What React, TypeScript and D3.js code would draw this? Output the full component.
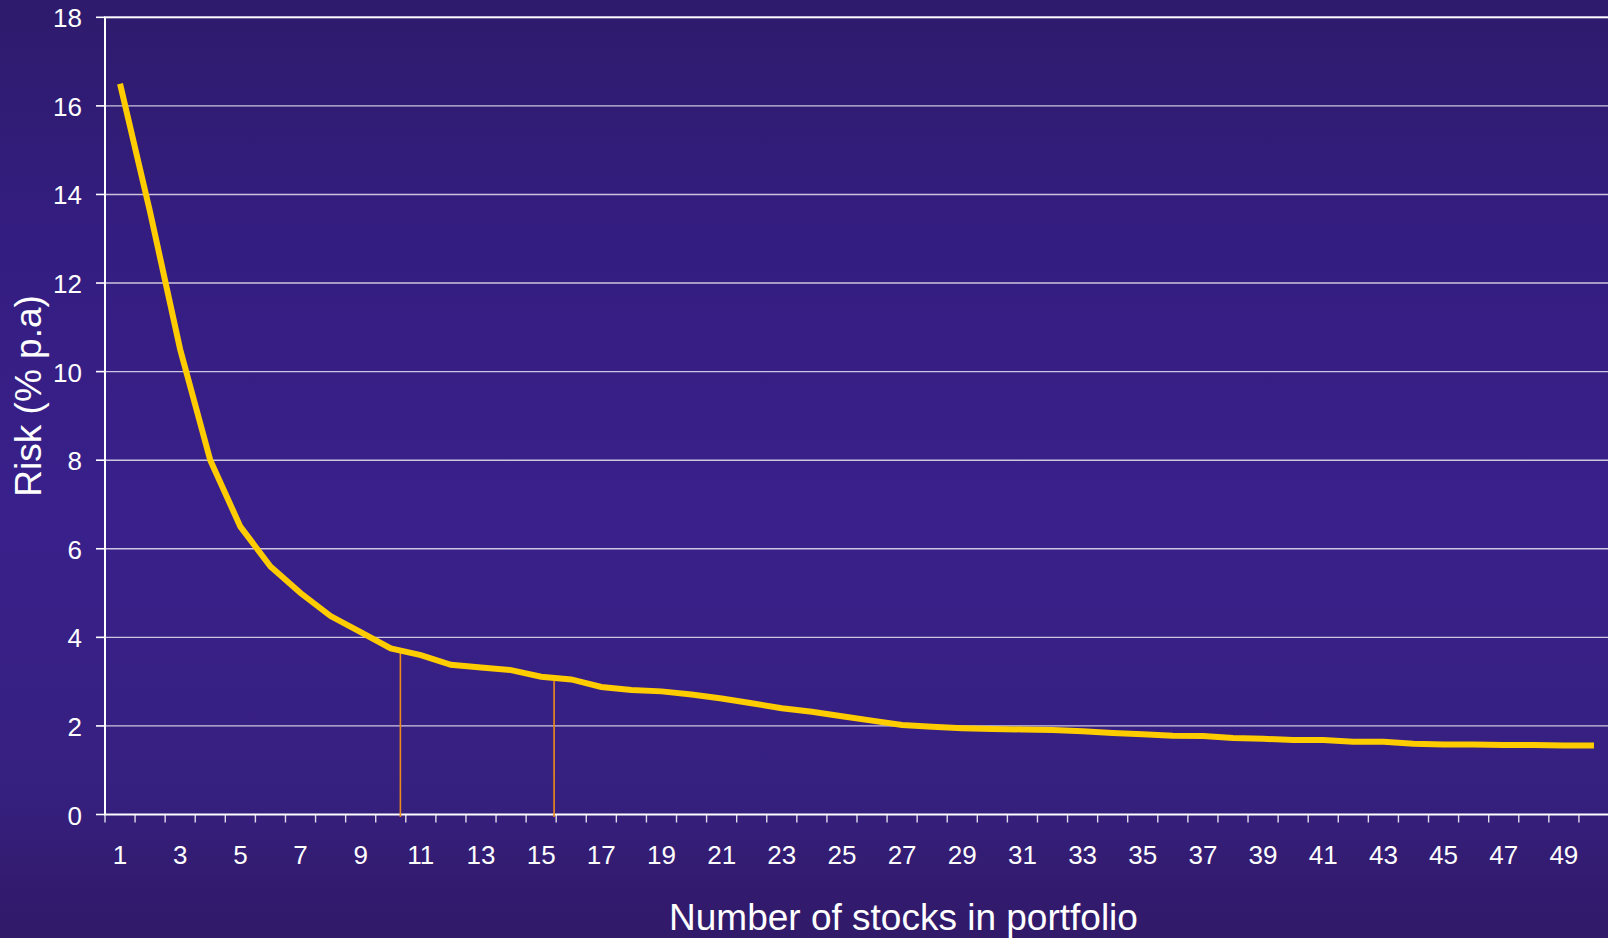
import React from "react";
import * as d3 from "d3";

// Number of stocks held (category axis)
const stockCounts = [
  1, 2, 3, 4, 5, 6, 7, 8, 9, 10, 11, 12, 13, 14, 15, 16, 17, 18, 19, 20, 21, 22, 23, 24, 25,
  26, 27, 28, 29, 30, 31, 32, 33, 34, 35, 36, 37, 38, 39, 40, 41, 42, 43, 44, 45, 46, 47, 48, 49, 50,
];

// Portfolio risk (% p.a.) for each portfolio size
const riskValues = [
  16.5, 13.6, 10.5, 8.0, 6.5, 5.6, 5.0, 4.48, 4.12, 3.75,
  3.6, 3.38, 3.32, 3.26, 3.11, 3.05, 2.88, 2.81, 2.78, 2.71,
  2.62, 2.51, 2.4, 2.32, 2.22, 2.12, 2.02, 1.98, 1.95, 1.93,
  1.92, 1.91, 1.88, 1.84, 1.81, 1.78, 1.77, 1.73, 1.71, 1.68,
  1.68, 1.64, 1.64, 1.6, 1.58, 1.58, 1.57, 1.57, 1.56, 1.56,
];

// Y-axis tick values
const yTicks = [0, 2, 4, 6, 8, 10, 12, 14, 16, 18];

// Drop lines from the curve down to the axis (position in stocks, top in % p.a.)
const dropLineStocks = [10.32, 15.43];
const dropLineTops = [3.72, 3.03];

const W = 1608;
const H = 938;
const FONT = "'Liberation Sans', Arial, Helvetica, sans-serif";

export default function App() {
  const left = 105;
  const bandW = 30.08;
  const right = left + bandW * stockCounts.length;
  const top = 17.3;
  const bottom = 814.5;

  const x = d3
    .scaleBand<number>()
    .domain(stockCounts)
    .range([left, right])
    .padding(0);
  const xLin = d3
    .scaleLinear()
    .domain([0.5, stockCounts.length + 0.5])
    .range([left, right]);
  const y = d3.scaleLinear().domain([0, 18]).range([bottom, top]);

  const line = d3
    .line<number>()
    .x((_, i) => (x(stockCounts[i]) as number) + x.bandwidth() / 2)
    .y((d) => y(d));

  const boundaries = stockCounts.map((c) => x(c) as number).concat([right]);

  return (
    <svg
      width={W}
      height={H}
      style={{ position: "absolute", left: 0, top: 0, display: "block" }}
    >
      <defs>
        <linearGradient id="bg" x1="0" y1="0" x2="0" y2="1">
          <stop offset="0%" stopColor="#2e1b6c" />
          <stop offset="25%" stopColor="#341d80" />
          <stop offset="55%" stopColor="#39208b" />
          <stop offset="85%" stopColor="#36207f" />
          <stop offset="92%" stopColor="#331c72" />
          <stop offset="100%" stopColor="#311a69" />
        </linearGradient>
      </defs>
      <rect x={0} y={0} width={W} height={H} fill="url(#bg)" />

      {/* horizontal gridlines */}
      {yTicks
        .filter((t) => t > 0 && t < 18)
        .map((t) => (
          <line
            key={"g" + t}
            x1={left}
            x2={right}
            y1={y(t)}
            y2={y(t)}
            stroke="#ffffff"
            strokeOpacity={0.75}
            strokeWidth={1.4}
          />
        ))}

      {/* plot-area frame */}
      <rect
        x={left}
        y={y(18)}
        width={right - left}
        height={y(0) - y(18)}
        fill="none"
        stroke="#ffffff"
        strokeWidth={2}
      />

      {/* y ticks and labels */}
      {yTicks.map((t) => (
        <g key={"y" + t}>
          <line x1={left - 9} x2={left} y1={y(t)} y2={y(t)} stroke="#ffffff" strokeWidth={1.6} />
          <text
            x={82}
            y={y(t) + 10}
            textAnchor="end"
            fontFamily={FONT}
            fontSize={26}
            fill="#ffffff"
          >
            {t}
          </text>
        </g>
      ))}

      {/* x ticks between categories */}
      {boundaries.map((b, i) => (
        <line
          key={"xt" + i}
          x1={b}
          x2={b}
          y1={y(0)}
          y2={y(0) + 8}
          stroke="#ffffff"
          strokeOpacity={0.85}
          strokeWidth={1.4}
        />
      ))}

      {/* x labels on odd counts */}
      {stockCounts
        .filter((c) => c % 2 === 1)
        .map((c) => (
          <text
            key={"xl" + c}
            x={(x(c) as number) + x.bandwidth() / 2}
            y={864}
            textAnchor="middle"
            fontFamily={FONT}
            fontSize={26}
            fill="#ffffff"
          >
            {c}
          </text>
        ))}

      {/* drop lines */}
      {dropLineStocks.map((s, i) => (
        <line
          key={"d" + i}
          x1={xLin(s)}
          x2={xLin(s)}
          y1={y(dropLineTops[i])}
          y2={y(0) + 2.5}
          stroke="#ee8a1c"
          strokeWidth={1.6}
        />
      ))}

      {/* risk curve */}
      <path
        d={line(riskValues) || ""}
        fill="none"
        stroke="#ffcc00"
        strokeWidth={6}
        strokeLinejoin="miter"
        strokeLinecap="butt"
      />

      {/* axis titles */}
      <text
        x={903.5}
        y={930}
        textAnchor="middle"
        fontFamily={FONT}
        fontSize={37}
        fill="#ffffff"
      >
        Number of stocks in portfolio
      </text>
      <text
        transform={`translate(41, ${y(9) - 20}) rotate(-90)`}
        textAnchor="middle"
        fontFamily={FONT}
        fontSize={37}
        fill="#ffffff"
      >
        Risk (% p.a)
      </text>
    </svg>
  );
}
